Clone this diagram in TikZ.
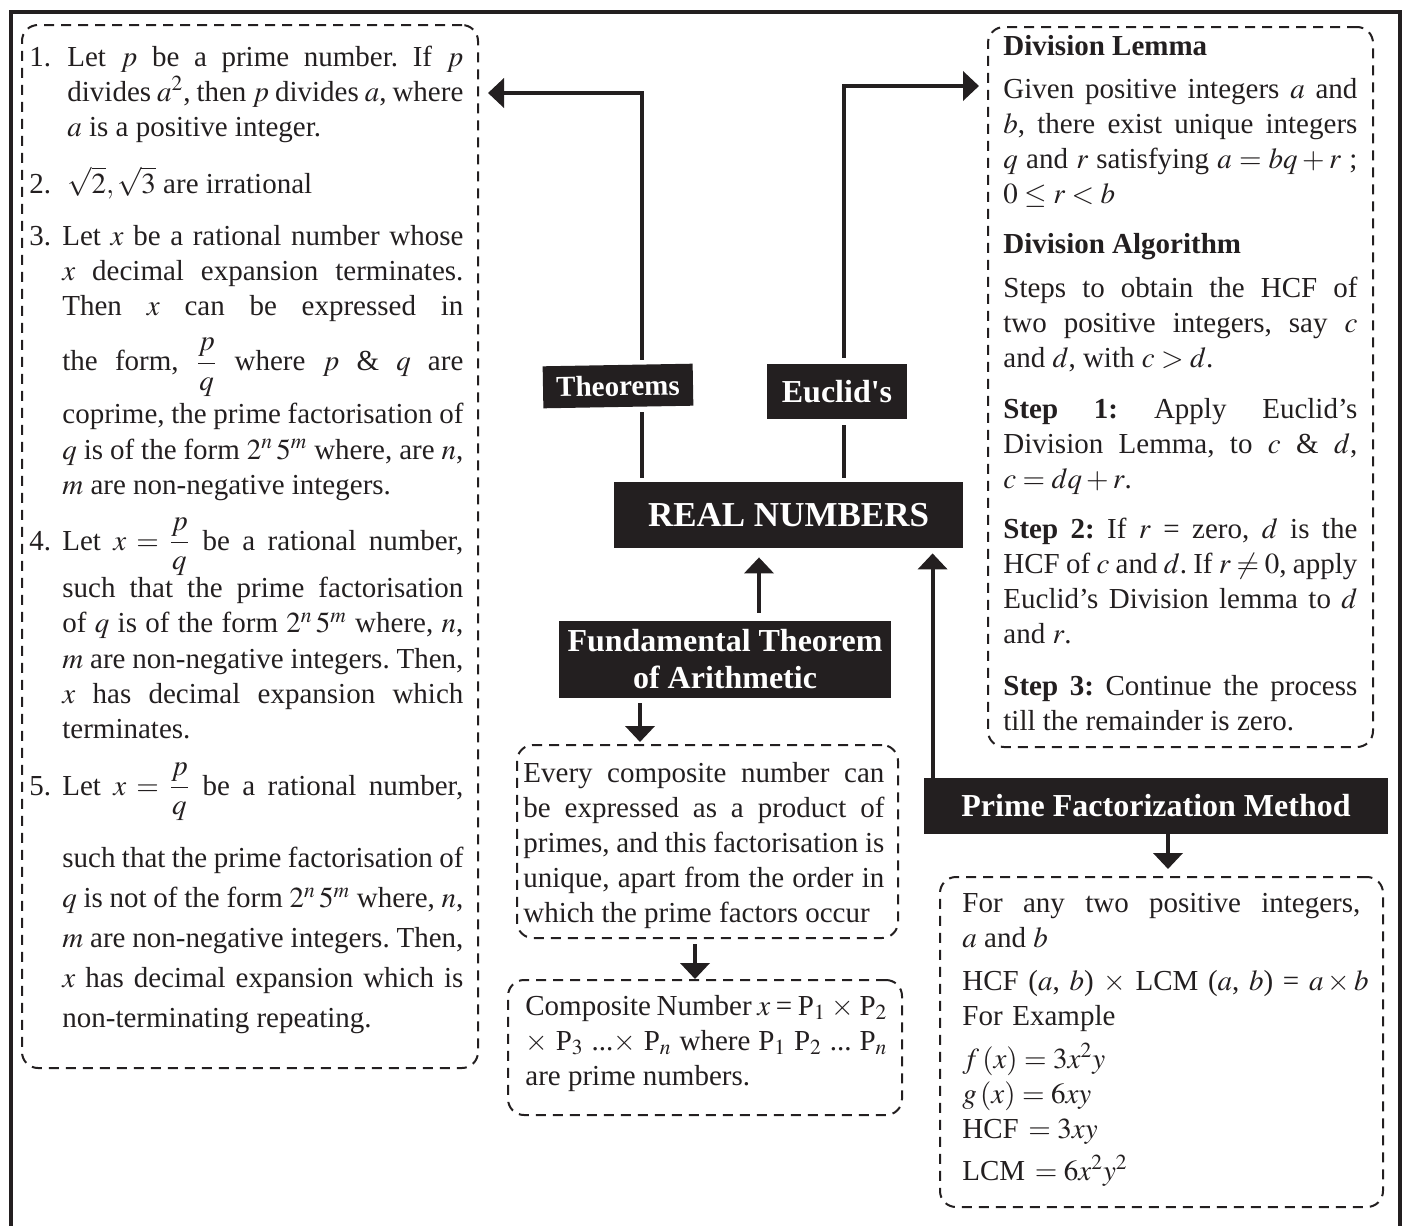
\documentclass[tikz,border=0pt]{standalone}
\usepackage{amsmath}
\usepackage{mathptmx}
\usepackage{fontspec}
\setmainfont{Liberation Serif}
\usepackage{xcolor}
\usetikzlibrary{arrows.meta}
\usetikzlibrary{calc}
\usetikzlibrary{positioning}

\definecolor{ink}{RGB}{35,31,32}
\newcommand{\numitem}[2]{\hangindent=#2\hangafter=1\makebox[#2][l]{#1}}
\newcommand{\fracline}[2]{\rule[-#2]{0pt}{\dimexpr#1+#2\relax}}

\tikzset{
  dashbox/.style={draw=ink, line width=1pt, dash pattern=on 5pt off 3.5pt, rounded corners=8pt, inner sep=0pt},
  blackbox/.style={fill=ink, text=white, inner sep=0pt, align=center},
  para/.style={anchor=base west, inner sep=0pt, align=justify, text=ink, font=\fontsize{14.5}{17.6}\selectfont},
  conn/.style={draw=ink, line width=2pt},
  arr/.style={conn, -{Triangle[width=14.5pt,length=8pt]}},
}

\begin{document}
\frenchspacing
\begin{tikzpicture}[x=0.5pt, y=-0.5pt]
  \useasboundingbox (0,0) rectangle (1404,1226);
  % frame
  \draw[ink, line width=2.2pt] (11,1240) -- (11,12) -- (1400,12) -- (1400,1240);

  % dashed boxes
  \node[dashbox, minimum width=228pt, minimum height=521.5pt] (leftbox) at (250,546.5) {};
  \node[dashbox, minimum width=192.5pt, minimum height=360pt] (rightbox) at (1180.5,387) {};
  \node[dashbox, minimum width=190.5pt, minimum height=96.5pt] (everybox) at (707.5,841.5) {};
  \node[dashbox, minimum width=197pt, minimum height=67.5pt] (compbox) at (705,1047.5) {};
  \node[dashbox, minimum width=221.5pt, minimum height=165pt] (pfbox) at (1161.5,1042) {};

  % black boxes
  \node[blackbox, minimum width=174.5pt, minimum height=33pt, font=\bfseries\fontsize{17.5}{20}\selectfont] (rn) at (788.5,515) {REAL NUMBERS};
  \node[blackbox, minimum width=166pt, minimum height=38.5pt, font=\bfseries\fontsize{16}{18.5}\selectfont] (fta) at (725,659.5) {Fundamental Theorem\\of Arithmetic};
  \node[blackbox, minimum width=232pt, minimum height=28pt, font=\bfseries\fontsize{16}{18}\selectfont] (pf) at (1156,806) {Prime Factorization Method};

  % connectors
  \coordinate (thmfoot) at ([xshift=14pt]rn.north west);
  \coordinate (euclfoot) at ([xshift=-59.5pt]rn.north east);
  \coordinate (thmturn) at (thmfoot |- 0,93);
  \coordinate (euclturn) at (euclfoot |- 0,86);

  \node[blackbox, minimum width=75pt, minimum height=21pt, rotate=1, font=\bfseries\fontsize{14.5}{17}\selectfont] (thm) at (618,386) {Theorems};
  \node[blackbox, minimum width=70pt, minimum height=27.5pt, font=\bfseries\fontsize{16}{18}\selectfont] (eucl) at (837,391.5) {Euclid\textquotesingle s};

  \draw[conn, shorten <=2pt, shorten >=2.5pt] (thmfoot) -- (thmfoot |- thm.south);
  \draw[arr, shorten <=2.5pt, shorten >=4.5pt] (thmfoot |- thm.north) -- (thmturn) -- (leftbox.east |- thmturn);
  \draw[conn, shorten <=2pt, shorten >=3pt] (euclfoot) -- (euclfoot |- eucl.south);
  \draw[arr, shorten <=3pt, shorten >=4pt] (euclfoot |- eucl.north) -- (euclturn) -- (rightbox.west |- euclturn);
  \draw[arr, shorten <=4pt, shorten >=4.5pt] ([xshift=17pt]fta.north) -- ([xshift=17pt]fta.north |- rn.south);
  \draw[arr, shorten >=2.5pt] ([xshift=4.5pt]pf.north west) -- ([xshift=4.5pt]pf.north west |- rn.south);
  \draw[arr, shorten <=2.5pt, shorten >=1pt] ([xshift=-42.5pt]fta.south) -- ([xshift=-42.5pt]fta.south |- everybox.north);
  \draw[arr, shorten <=2.5pt] ([xshift=-6.25pt]everybox.south) -- ([xshift=-6.25pt]everybox.south |- compbox.north);
  \draw[arr, shorten >=3.5pt] ([xshift=6pt]pf.south) -- ([xshift=6pt]pf.south |- pfbox.north);

  % left box
  \node[para, text width=217pt] (item1) at (29,66) {\numitem{1.}{19pt}Let $p$ be a prime number. If $p$\linebreak divides $a^2$, then $p$ divides $a$, where\linebreak $a$ is a positive integer.\par};
  \node[para, text width=217pt] (item2) at (29,193) {\numitem{2.}{19pt}$\sqrt{2},\sqrt{3}$ are irrational\par};
  \node[para, text width=217pt] (item3) at (29,245) {\numitem{3.}{16.5pt}Let $x$ be a rational number whose\linebreak $x$ decimal expansion terminates.\linebreak Then $x$ can be expressed in\linebreak the form,\fracline{23.4pt}{15.6pt} \smash{$\dfrac{p}{q}$} where $p$ \& $q$ are\linebreak coprime, the prime factorisation of\linebreak $q$ is of the form $2^n\,5^m$ where, are $n$,\linebreak $m$ are non-negative integers.\par};
  \node[para, text width=217pt] (item4) at (29,550) {\numitem{4.}{16.5pt}Let $x = \smash{\dfrac{p}{q}}$\fracline{0pt}{12.6pt} be a rational number,\linebreak such that the prime factorisation\linebreak of $q$ is of the form $2^n\,5^m$ where, $n$,\linebreak $m$ are non-negative integers. Then,\linebreak $x$ has decimal expansion which\linebreak terminates.\par};
  \node[para, text width=217pt, font=\fontsize{14.5}{20}\selectfont] (item5) at (29,795) {\numitem{5.}{16.5pt}Let $x = \smash{\dfrac{p}{q}}$\fracline{0pt}{25.1pt} be a rational number,\linebreak such that the prime factorisation of\linebreak $q$ is not of the form $2^n\,5^m$ where, $n$,\linebreak $m$ are non-negative integers. Then,\linebreak $x$ has decimal expansion which is\linebreak non-terminating repeating.\par};

  % right box
  \node[para, text width=177pt] (lemmahead) at (1003,55) {\textbf{Division Lemma}};
  \node[para, text width=177pt] (lemma) at (1003,98) {Given positive integers $a$ and\linebreak $b$, there exist unique integers\linebreak $q$ and $r$ satisfying $a = bq + r$ ;\linebreak $0 \le r < b$};
  \node[para, text width=177pt] (algohead) at (1003,253) {\textbf{Division Algorithm}};
  \node[para, text width=177pt] (algo) at (1003,297) {Steps to obtain the HCF of\linebreak two positive integers, say $c$\linebreak and $d$, with $c > d$.};
  \node[para, text width=177pt] (step1) at (1003,418) {\textbf{Step 1:} Apply Euclid's\linebreak Division Lemma, to $c$ \& $d$,\linebreak $c = dq + r$.};
  \node[para, text width=177pt] (step2) at (1003,538) {\textbf{Step 2:} If $r$ = zero, $d$ is the\linebreak HCF of $c$ and $d$. If $r \ne 0$, apply\linebreak Euclid's Division lemma to $d$\linebreak and $r$.};
  \node[para, text width=177pt] (step3) at (1003,695) {\textbf{Step 3:} Continue the process\linebreak till the remainder is zero.};

  % middle boxes
  \node[para, text width=180.5pt] (everytext) at (523,782) {Every composite number can\linebreak be expressed as a product of\linebreak primes, and this factorisation is\linebreak unique, apart from the order in\linebreak which the prime factors occur};
  \node[para, text width=181pt] (comptext) at (525,1015) {Composite Number $x$ = P$_1$ $\times$ P$_2$\linebreak $\times$ P$_3$ ...$\times$ P$_n$ where P$_1$ P$_2$ ... P$_n$\linebreak are prime numbers.};

  % prime factorization box
  \node[para, text width=199pt] (pftext) at (962,912) {For any two positive integers,\linebreak $a$ and $b$};
  \node[para, text width=215pt, align=left] (pfexample) at (962,990) {HCF ($a$, $b$) $\times$ LCM ($a$, $b$) = $a \times b$\\
    For Example\\[4pt]
    $f\,(x) = 3x^2y$\\
    $g\,(x) = 6xy$\\
    HCF $= 3xy$\\[3pt]
    LCM $= 6x^2y^2$};
\end{tikzpicture}
\end{document}
